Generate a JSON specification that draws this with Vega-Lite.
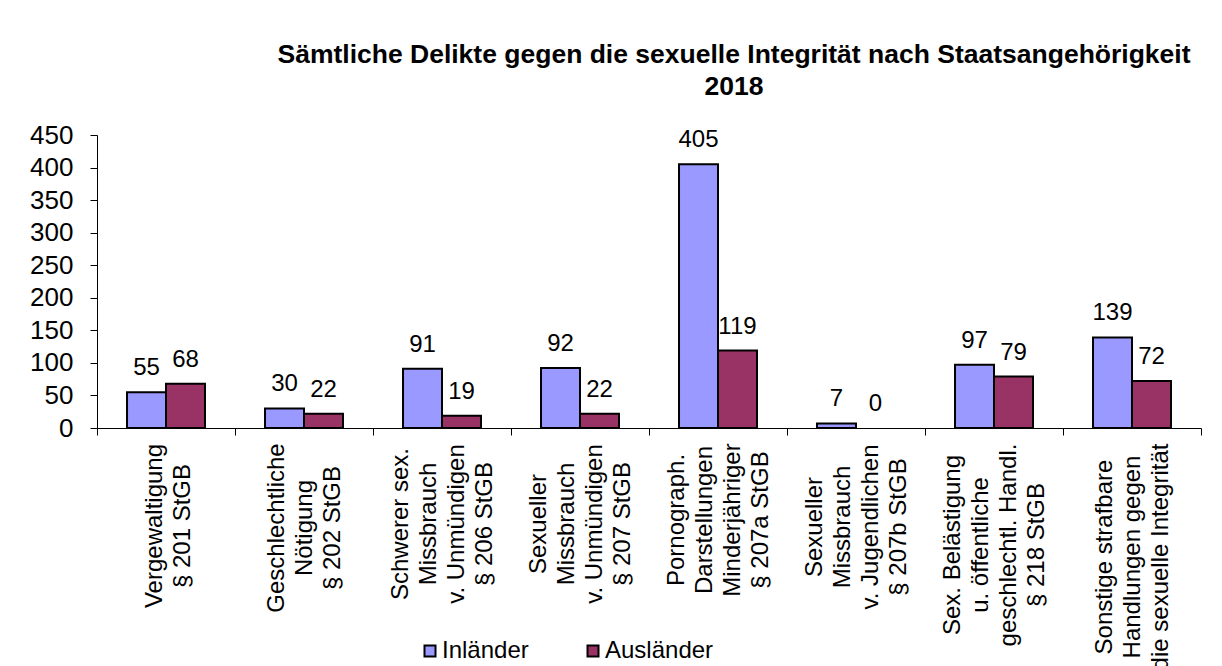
{
  "$schema": "https://vega.github.io/schema/vega-lite/v6.json",
  "width": 1104,
  "height": 293,
  "autosize": {"type": "none"},
  "padding": {"left": 97, "top": 135, "right": 21, "bottom": 238},
  "background": "white",
  "title": {
    "text": ["Sämtliche Delikte gegen die sexuelle Integrität nach Staatsangehörigkeit", "2018"],
    "font": "Liberation Sans",
    "fontSize": 26.5,
    "fontWeight": "bold",
    "color": "black",
    "anchor": "middle",
    "dx": 85,
    "offset": 22,
    "lineHeight": 32
  },
  "data": {
    "values": [
      {"Delikt": "Vergewaltigung|§ 201 StGB", "Herkunft": "Inländer", "Anzahl": 55},
      {"Delikt": "Vergewaltigung|§ 201 StGB", "Herkunft": "Ausländer", "Anzahl": 68},
      {"Delikt": "Geschlechtliche|Nötigung|§ 202 StGB", "Herkunft": "Inländer", "Anzahl": 30},
      {"Delikt": "Geschlechtliche|Nötigung|§ 202 StGB", "Herkunft": "Ausländer", "Anzahl": 22},
      {"Delikt": "Schwerer sex.|Missbrauch|v. Unmündigen|§ 206 StGB", "Herkunft": "Inländer", "Anzahl": 91},
      {"Delikt": "Schwerer sex.|Missbrauch|v. Unmündigen|§ 206 StGB", "Herkunft": "Ausländer", "Anzahl": 19},
      {"Delikt": "Sexueller|Missbrauch|v. Unmündigen|§ 207 StGB", "Herkunft": "Inländer", "Anzahl": 92},
      {"Delikt": "Sexueller|Missbrauch|v. Unmündigen|§ 207 StGB", "Herkunft": "Ausländer", "Anzahl": 22},
      {"Delikt": "Pornograph.|Darstellungen|Minderjähriger|§ 207a StGB", "Herkunft": "Inländer", "Anzahl": 405},
      {"Delikt": "Pornograph.|Darstellungen|Minderjähriger|§ 207a StGB", "Herkunft": "Ausländer", "Anzahl": 119},
      {"Delikt": "Sexueller|Missbrauch|v. Jugendlichen|§ 207b StGB", "Herkunft": "Inländer", "Anzahl": 7},
      {"Delikt": "Sexueller|Missbrauch|v. Jugendlichen|§ 207b StGB", "Herkunft": "Ausländer", "Anzahl": 0},
      {"Delikt": "Sex. Belästigung|u. öffentliche|geschlechtl. Handl.|§ 218 StGB", "Herkunft": "Inländer", "Anzahl": 97},
      {"Delikt": "Sex. Belästigung|u. öffentliche|geschlechtl. Handl.|§ 218 StGB", "Herkunft": "Ausländer", "Anzahl": 79},
      {"Delikt": "Sonstige strafbare|Handlungen gegen|die sexuelle Integrität", "Herkunft": "Inländer", "Anzahl": 139},
      {"Delikt": "Sonstige strafbare|Handlungen gegen|die sexuelle Integrität", "Herkunft": "Ausländer", "Anzahl": 72}
    ]
  },
  "encoding": {
    "x": {
      "field": "Delikt",
      "type": "nominal",
      "sort": null,
      "title": null,
      "scale": {"paddingInner": 0, "paddingOuter": 0},
      "axis": {
        "labelAngle": -90,
        "labelAlign": "center",
        "labelBaseline": "middle",
        "labelExpr": "split(datum.label, '|')",
        "labelFontSize": 24,
        "labelLineHeight": 28,
        "labelLimit": 0,
        "labelOverlap": false,
        "labelColor": "black",
        "labelOffset": {
          "condition": [
            {"test": "length(split(datum.value, '|')) == 2", "value": -12},
            {"test": "length(split(datum.value, '|')) == 3", "value": -28}
          ],
          "value": -42
        },
        "labelPadding": {
          "condition": [
            {"test": "datum.value === 'Vergewaltigung|§ 201 StGB'", "value": 90.5},
            {"test": "datum.value === 'Geschlechtliche|Nötigung|§ 202 StGB'", "value": 92.5},
            {"test": "datum.value === 'Schwerer sex.|Missbrauch|v. Unmündigen|§ 206 StGB'", "value": 88.5},
            {"test": "datum.value === 'Sexueller|Missbrauch|v. Unmündigen|§ 207 StGB'", "value": 88.5},
            {"test": "datum.value === 'Pornograph.|Darstellungen|Minderjähriger|§ 207a StGB'", "value": 84.5},
            {"test": "datum.value === 'Sexueller|Missbrauch|v. Jugendlichen|§ 207b StGB'", "value": 91.5},
            {"test": "datum.value === 'Sex. Belästigung|u. öffentliche|geschlechtl. Handl.|§ 218 StGB'", "value": 109.5}
          ],
          "value": 121.5
        },
        "tickBand": "extent",
        "tickSize": 7,
        "tickColor": "black",
        "domainColor": "black",
        "grid": false
      }
    },
    "xOffset": {
      "field": "Herkunft",
      "type": "nominal",
      "sort": ["Inländer", "Ausländer"],
      "scale": {"paddingInner": 0, "paddingOuter": 0.77}
    },
    "y": {
      "field": "Anzahl",
      "type": "quantitative",
      "title": null,
      "scale": {"domain": [0, 450], "nice": false},
      "axis": {
        "values": [0, 50, 100, 150, 200, 250, 300, 350, 400, 450],
        "labelFontSize": 26,
        "labelPadding": 17,
        "labelColor": "black",
        "tickSize": 7,
        "tickColor": "black",
        "domainColor": "black",
        "grid": false
      }
    }
  },
  "layer": [
    {
      "mark": {"type": "bar", "stroke": "black"},
      "encoding": {
        "color": {
          "field": "Herkunft",
          "type": "nominal",
          "sort": ["Inländer", "Ausländer"],
          "scale": {"domain": ["Inländer", "Ausländer"], "range": ["#9999FF", "#993366"]},
          "legend": {
            "title": null,
            "orient": "none",
            "legendX": 321,
            "legendY": 504,
            "direction": "horizontal",
            "symbolType": "square",
            "symbolSize": 121,
            "symbolStrokeColor": "black",
            "symbolStrokeWidth": 2,
            "labelFontSize": 24,
            "labelColor": "black",
            "labelOffset": 0,
            "columnPadding": 52,
            "padding": 0
          }
        },
        "strokeWidth": {"condition": {"test": "datum.Anzahl == 0", "value": 0}, "value": 2}
      }
    },
    {
      "mark": {"type": "text", "dy": -17, "fontSize": 24, "baseline": "alphabetic", "color": "black"},
      "encoding": {
        "text": {"field": "Anzahl", "type": "quantitative"}
      }
    }
  ],
  "config": {
    "view": {"stroke": null},
    "font": "Liberation Sans"
  }
}
